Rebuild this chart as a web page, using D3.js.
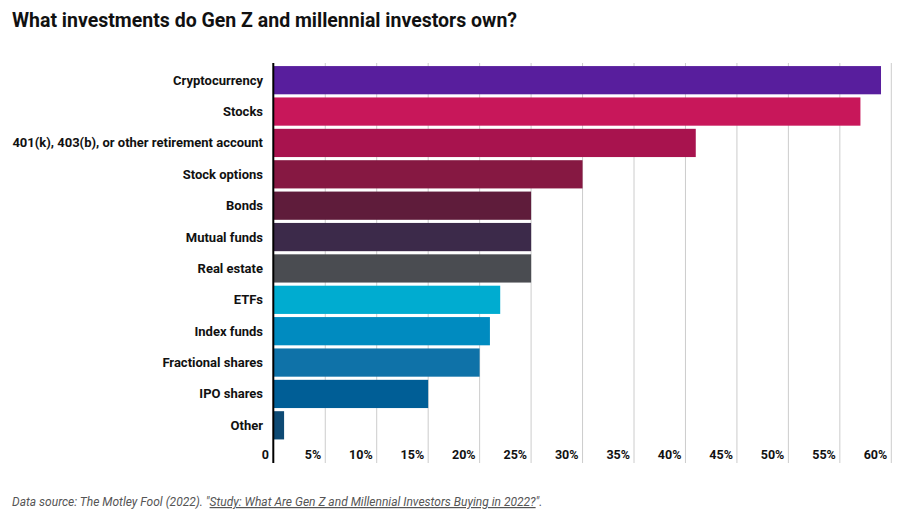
<!DOCTYPE html>
<html><head><meta charset="utf-8">
<script src="https://cdn.jsdelivr.net/npm/d3@7"></script>
<style>
body{margin:0;background:#fff;font-family:Roboto,"Noto Sans",sans-serif;}
</style></head>
<body><svg id="c" width="906" height="526"></svg>
<script>
const categories = ["Cryptocurrency","Stocks","401(k), 403(b), or other retirement account","Stock options","Bonds","Mutual funds","Real estate","ETFs","Index funds","Fractional shares","IPO shares","Other"];
const values = [59,57,41,30,25,25,25,22,21,20,15,1];
const colors = ["#581e9d","#c8175a","#a8134e","#861842","#5f1c3b","#3c2a4a","#4a4c51","#00acd0","#008bc0","#0f72a8","#005e96","#0e4a74"];
const ticks = [0,5,10,15,20,25,30,35,40,45,50,55,60];

const svg = d3.select("#c");
const x = d3.scaleLinear().domain([0,60]).range([273.8,891.3]);
const y = d3.scaleBand().domain(categories).range([64.5,441]).paddingInner(0.1).paddingOuter(0.05);

svg.append("text").attr("x",12).attr("y",27).attr("font-size",19.5).attr("font-weight",700).attr("fill","#111")
  .text("What investments do Gen Z and millennial investors own?");

// gridlines
svg.append("g").selectAll("line").data(ticks.slice(1)).join("line")
  .attr("x1",d=>x(d)).attr("x2",d=>x(d)).attr("y1",63).attr("y2",463)
  .attr("stroke","#cccccc").attr("stroke-width",1);

// bars
svg.append("g").selectAll("rect").data(categories).join("rect")
  .attr("x",x(0)).attr("y",d=>y(d)).attr("height",y.bandwidth())
  .attr("width",(d,i)=>x(values[i])-x(0)).attr("fill",(d,i)=>colors[i]);

// zero axis
svg.append("line").attr("x1",x(0)-0.5).attr("x2",x(0)-0.5).attr("y1",63).attr("y2",463)
  .attr("stroke","#000").attr("stroke-width",2);

// category labels
svg.append("g").selectAll("text").data(categories).join("text")
  .attr("x",263).attr("y",d=>y(d)+y.bandwidth()/2).attr("dy","0.35em")
  .attr("text-anchor","end").attr("font-size",13).attr("font-weight",700).attr("fill","#111")
  .text(d=>d);

// tick labels
svg.append("g").selectAll("text").data(ticks).join("text")
  .attr("x",d=>d===0?x(0)-5:x(d)-4).attr("y",459)
  .attr("text-anchor","end").attr("font-size",12.5).attr("font-weight",700).attr("fill","#111")
  .text(d=>d===0?"0":d+"%");

// footer
const f = svg.append("text").attr("x",12).attr("y",506).attr("font-size",12).attr("font-style","italic").attr("fill","#555");
f.append("tspan").text("Data source: The Motley Fool (2022). \"");
f.append("tspan").attr("text-decoration","underline").text("Study: What Are Gen Z and Millennial Investors Buying in 2022?");
f.append("tspan").text("\".");
</script></body></html>
